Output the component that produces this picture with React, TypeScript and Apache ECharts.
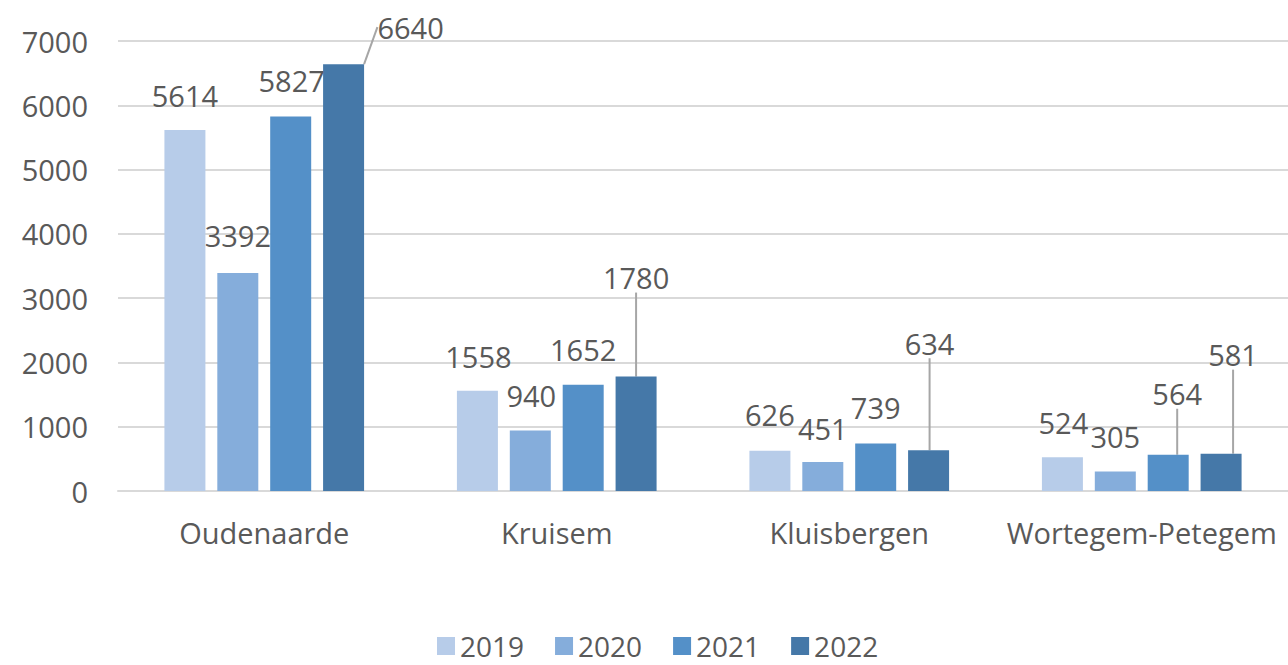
import React, { useEffect, useRef } from "react";
import * as echarts from "echarts";

const categories = ["Oudenaarde", "Kruisem", "Kluisbergen", "Wortegem-Petegem"];
const years = ["2019", "2020", "2021", "2022"];
const values2019 = [5614, 1558, 626, 524];
const values2020 = [3392, 940, 451, 305];
const values2021 = [5827, 1652, 739, 564];
const values2022 = [6640, 1780, 634, 581];
const yTicks = { min: 0, max: 7000, interval: 1000 };

const colors = ["#b7cce9", "#85addb", "#5490c8", "#4578a8"];
// label shifts [dx, dy] relative to the default outside-top position
const labelShift: number[][][] = [
  [[0, 0], [1, 1], [0, -1], [1, 0]],
  [[0, -2], [1, 0], [0, 1], [0, 0]],
  [[1, -1], [0, 0], [0, -1], [9, -26]],
  [[67, -2], [0, -64], [1, -72], [12, -64]],
];
const leaderLines: boolean[][] = [
  [false, false, false, false],
  [false, false, false, false],
  [false, false, false, true],
  [true, true, true, true],
];

const TEXT = "#595959";
const FONT = "'Open Sans', 'Noto Sans', sans-serif";

export default function App() {
  const ref = useRef<HTMLDivElement>(null);
  useEffect(() => {
    if (!ref.current) return;
    const chart = echarts.init(ref.current, undefined, { renderer: "svg" });
    const all = [values2019, values2020, values2021, values2022];
    chart.setOption({
      animation: false,
      textStyle: { fontFamily: FONT },
      grid: { left: 118, right: -2, top: 41, bottom: 174 },
      legend: {
        data: years,
        left: 432,
        top: 627,
        itemWidth: 18,
        itemHeight: 18,
        itemGap: 31,
        icon: "rect",
        textStyle: { color: TEXT, fontSize: 28, lineHeight: 28, fontFamily: FONT },
      },
      xAxis: {
        type: "category",
        data: categories,
        axisLine: { show: true, lineStyle: { color: "#d9d9d9", width: 2 } },
        axisTick: { show: false },
        axisLabel: { color: TEXT, fontSize: 29, fontFamily: FONT, margin: 27, interval: 0 },
      },
      yAxis: {
        type: "value",
        min: yTicks.min,
        max: yTicks.max,
        interval: yTicks.interval,
        axisLine: { show: false },
        axisTick: { show: false },
        splitLine: { lineStyle: { color: "#d9d9d9", width: 2 } },
        axisLabel: {
          color: TEXT,
          fontSize: 29,
          fontFamily: FONT,
          margin: 30,
          formatter: (v: number) => String(v),
        },
      },
      series: all.map((vals, si) => ({
        name: years[si],
        type: "bar",
        barWidth: 41,
        barGap: "29%",
        itemStyle: { color: colors[si] },
        data: vals.map((v, ci) => ({
          value: v,
          labelLine: { show: leaderLines[si][ci] },
        })),
        label: {
          show: true,
          position: "top",
          distance: 20,
          color: TEXT,
          fontSize: 29,
          lineHeight: 30,
          fontFamily: FONT,
        },
        labelLine: { show: false, lineStyle: { color: "#a6a6a6", width: 2 } },
        labelLayout: (p: any) => ({
          dx: labelShift[si][p.dataIndex][0],
          dy: labelShift[si][p.dataIndex][1],
        }),
      })),
    });
    return () => chart.dispose();
  }, []);
  return (
    <div
      ref={ref}
      style={{ position: "fixed", left: 0, top: 0, width: 1288, height: 665, background: "#fff" }}
    />
  );
}
